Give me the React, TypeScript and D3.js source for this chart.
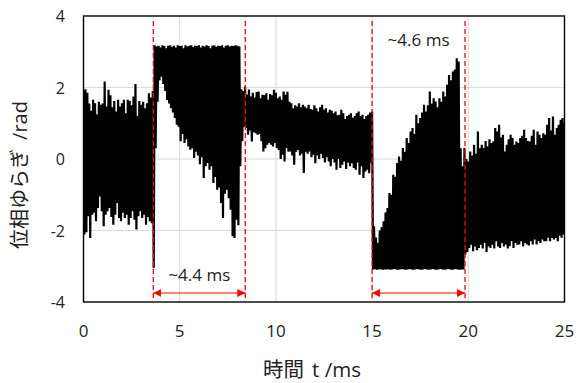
import React from 'react';
import * as d3 from 'd3';

const segStart = [0, 3.7, 8.2, 15.1, 19.8];

const hi1 = [1.9, 1.95, 1.85, 1.55, 1.35, 1.66, 1.56, 1.25, 1.6, 1.52, 1.55, 2.17, 1.47, 1.94, 1.78, 1.45, 1.62, 1.33, 1.66, 1.47, 1.56, 1.66, 1.28, 1.66, 1.62, 1.5, 1.75, 2.1, 1.2, 1.62, 1.52, 1.6, 1.42, 1.56, 1.84, 1.72, 1.9];
const lo1 = [-2.11, -2.05, -1.6, -2.21, -1.56, -1.5, -1.74, -1.37, -1.05, -1.46, -1.88, -1.56, -1.46, -1.37, -1.62, -1.84, -1.56, -1.23, -1.65, -1.74, -1.5, -1.65, -1.56, -1.84, -1.65, -1.46, -1.7, -1.97, -1.6, -1.46, -1.65, -1.56, -1.84, -1.62, -1.74, -1.8, -3.04];

const hi2 = [3.18, 3.15, 3.17, 3.12, 3.18, 3.16, 3.1, 3.17, 3.18, 3.14, 3.17, 3.12, 3.18, 3.16, 3.17, 3.1, 3.18, 3.15, 3.17, 3.18, 3.13, 3.17, 3.16, 3.18, 3.12, 3.17, 3.15, 3.18, 3.16, 3.1, 3.17, 3.18, 3.14, 3.17, 3.16, 3.18, 3.12, 3.17, 3.18, 3.15, 3.17, 3.16, 3.18, 3.17, 3.15];
const lo2 = [0.3, 1.6, 2.2, 2.3, 2.1, 1.9, 1.65, 1.55, 1.42, 1.3, 1.15, 0.96, 0.9, 0.5, 0.7, 0.45, 0.55, 0.35, 0.26, 0.3, 0.03, 0.2, 0.1, -0.15, 0.05, -0.53, -0.2, -0.11, -0.3, -0.2, -0.67, -0.5, -0.86, -0.8, -1.23, -1.65, -0.97, -0.86, -1.1, -1.42, -2.16, -2.21, -1.7, -1.85, -0.2];

const hi3 = [1.95, 1.9, 2.03, 1.8, 1.94, 1.75, 1.85, 1.72, 1.87, 1.89, 1.7, 1.8, 1.78, 1.84, 1.66, 1.82, 1.78, 1.94, 1.85, 1.7, 1.75, 1.66, 1.89, 1.8, 1.88, 1.6, 1.56, 1.42, 1.5, 1.47, 1.56, 1.45, 1.52, 1.47, 1.42, 1.52, 1.4, 1.38, 1.5, 1.42, 1.33, 1.45, 1.52, 1.38, 1.42, 1.3, 1.38, 1.35, 1.28, 1.33, 1.22, 1.24, 1.38, 1.28, 1.12, 1.2, 1.24, 1.28, 1.15, 1.2, 1.28, 1.33, 1.2, 1.24, 1.12, 1.2, 1.24, 1.3, 1.33];
const lo3 = [0.5, 0.9, 0.87, 0.68, 0.8, 0.49, 0.75, 0.72, 0.68, 0.7, 0.5, 0.21, 0.3, 0.4, 0.45, 0.4, 0.35, 0.45, 0.31, 0.25, 0.0, 0.12, -0.07, 0.31, 0.2, 0.21, 0.1, -0.16, 0.2, 0.25, 0.1, 0.15, -0.39, 0.2, 0.15, 0.21, 0.05, 0.12, -0.12, 0.1, 0.0, 0.15, 0.03, -0.1, 0.05, -0.07, -0.2, 0.0, -0.1, -0.3, 0.0, -0.25, -0.16, -0.07, -0.28, -0.1, -0.2, -0.12, -0.25, -0.3, -0.1, -0.44, -0.2, -0.53, -0.35, -0.3, -0.4, -0.1, -3.09];

const hi4 = [-1.88, -2.2, -2.35, -2.0, -1.9, -1.74, -1.5, -1.37, -0.95, -1.0, -0.44, -0.5, -0.11, 0.07, -0.05, 0.31, 0.2, 0.59, 0.45, 0.77, 0.87, 0.7, 1.24, 1.0, 1.15, 1.3, 1.52, 1.33, 1.5, 1.89, 1.55, 1.7, 1.61, 1.45, 1.7, 1.6, 1.89, 1.75, 2.08, 2.35, 2.2, 2.45, 2.5, 2.82, 2.73, 0.3, -0.2];
const lo4 = [-3.08, -3.1, -3.09, -3.08, -3.1, -3.09, -3.09, -3.08, -3.1, -3.09, -3.08, -3.09, -3.1, -3.09, -3.08, -3.09, -3.1, -3.09, -3.08, -3.09, -3.1, -3.09, -3.08, -3.09, -3.1, -3.09, -3.08, -3.09, -3.1, -3.09, -3.08, -3.09, -3.1, -3.09, -3.08, -3.09, -3.1, -3.09, -3.08, -3.09, -3.1, -3.09, -3.08, -3.09, -3.1, -3.09, -3.09];

const hi5 = [0.31, 0.0, -0.07, 0.21, 0.1, 0.4, 0.15, 0.77, 0.3, 0.4, 0.31, 0.5, 0.35, 0.55, 0.45, 0.49, 0.87, 0.77, 0.96, 0.6, 0.68, 0.21, 0.4, 0.55, 0.68, 0.59, 0.4, 0.49, 0.45, 0.59, 0.65, 0.82, 0.59, 0.5, 0.49, 0.65, 0.82, 0.4, 0.77, 0.68, 0.59, 0.72, 0.68, 0.96, 1.15, 0.8, 1.19, 0.68, 0.87, 0.96, 1.1, 1.15, 1.0];
const lo5 = [-2.67, -2.6, -2.49, -2.4, -2.58, -2.45, -2.55, -2.49, -2.4, -2.5, -2.35, -2.6, -2.45, -2.49, -2.4, -2.5, -2.3, -2.45, -2.49, -2.35, -2.45, -2.39, -2.5, -2.44, -2.3, -2.49, -2.35, -2.4, -2.39, -2.3, -2.45, -2.35, -2.39, -2.42, -2.3, -2.39, -2.25, -2.39, -2.3, -2.35, -2.25, -2.3, -2.3, -2.2, -2.3, -2.21, -2.25, -2.21, -2.3, -2.15, -2.2, -2.11, -2.15];

const hiSegs = [hi1, hi2, hi3, hi4, hi5];
const loSegs = [lo1, lo2, lo3, lo4, lo5];

const xTicks = [0, 5, 10, 15, 20, 25];
const yTicks = [-4, -2, 0, 2, 4];
const xGrid = [5, 10, 15, 20];
const yGrid = [-2, 0, 2];
const markerTimes = [3.63, 8.41, 15.0, 19.83];
const spanFrom = [3.63, 15.0];
const spanTo = [8.41, 19.83];
const spanLabels = ['~4.4 ms', '~4.6 ms'];

const xTitleJa = '時間';
const xTitleEn = 't /ms';
const yTitleJa = '位相ゆらぎ';
const yTitleEn = '/rad';

export default function App() {
  const W = 578, H = 383;
  const L = 83.5, R = 564.5, T = 16, B = 302;
  const x = d3.scaleLinear().domain([0, 25]).range([L, R]);
  const y = d3.scaleLinear().domain([-4, 4]).range([B, T]);

  const pts: [number, number][] = [];
  hiSegs.forEach((his, s) => {
    his.forEach((h, i) => {
      const t = segStart[s] + i * 0.1;
      pts.push([t, h]);
      pts.push([t + 0.05, loSegs[s][i]]);
    });
  });
  const line = d3.line<[number, number]>().x(d => x(d[0])).y(d => y(d[1]));

  const numFont = "'Open Sans', 'Noto Sans', sans-serif";
  const jpFont = "'Noto Sans CJK JP', sans-serif";
  const arrowY = y(-4) - 9;

  return (
    <svg width={W} height={H} style={{ position: 'absolute', left: 0, top: 0, background: '#fff' }}>
      <defs>
        <clipPath id="plotClip">
          <rect x={L} y={T} width={R - L} height={B - T} />
        </clipPath>
        <marker id="arrHead" viewBox="0 0 10 10" refX="10" refY="5" markerWidth="8" markerHeight="8" markerUnits="userSpaceOnUse" orient="auto-start-reverse">
          <path d="M0,0 L10,5 L0,10 Z" fill="#ff0000" />
        </marker>
      </defs>
      <rect x={0} y={0} width={W} height={H} fill="#fff" />
      {xGrid.map(v => (
        <line key={'gx' + v} x1={x(v)} x2={x(v)} y1={T} y2={B} stroke="#d9d9d9" strokeWidth={1} />
      ))}
      {yGrid.map(v => (
        <line key={'gy' + v} x1={L} x2={R} y1={y(v)} y2={y(v)} stroke="#d9d9d9" strokeWidth={1} />
      ))}
      <g clipPath="url(#plotClip)">
        <path d={line(pts) || ''} fill="none" stroke="#000" strokeWidth={2.2} strokeLinejoin="miter" strokeMiterlimit={4} />
      </g>
      <rect x={L} y={T} width={R - L} height={B - T} fill="none" stroke="#000" strokeWidth={1.4} />
      {markerTimes.map(t => (
        <line key={'m' + t} x1={x(t)} x2={x(t)} y1={T + 5} y2={B} stroke="#ff0000" strokeWidth={1.3} strokeDasharray="5,3" />
      ))}
      {spanFrom.map((f, i) => (
        <line key={'a' + i} x1={x(f)} x2={x(spanTo[i])} y1={arrowY} y2={arrowY} stroke="#ff0000" strokeWidth={1}
          markerStart="url(#arrHead)" markerEnd="url(#arrHead)" />
      ))}
      <text x={x((spanFrom[0] + spanTo[0]) / 2)} y={y(-4) - 21} textAnchor="middle" fontFamily={numFont} fontSize={17} fill="#222">{spanLabels[0]}</text>
      <text x={x((spanFrom[1] + spanTo[1]) / 2)} y={y(4) + 30} textAnchor="middle" fontFamily={numFont} fontSize={17} fill="#222">{spanLabels[1]}</text>
      {yTicks.map(v => (
        <text key={'yt' + v} x={65} y={y(v) + 6} textAnchor="end" fontFamily={numFont} fontSize={16} fill="#222">{v}</text>
      ))}
      {xTicks.map(v => (
        <text key={'xt' + v} x={x(v)} y={337} textAnchor="middle" fontFamily={numFont} fontSize={17} fill="#222">{v}</text>
      ))}
      <text x={312} y={377} textAnchor="middle" fontSize={20.5} fill="#222">
        <tspan fontFamily={jpFont}>{xTitleJa}</tspan>
        <tspan fontFamily={numFont} dx={8}>{xTitleEn}</tspan>
      </text>
      <text transform="translate(26.5,175) rotate(-90)" textAnchor="middle" fontSize={20} fill="#222">
        <tspan fontFamily={jpFont}>{yTitleJa}</tspan>
        <tspan fontFamily={numFont} dx={9}>{yTitleEn}</tspan>
      </text>
    </svg>
  );
}
